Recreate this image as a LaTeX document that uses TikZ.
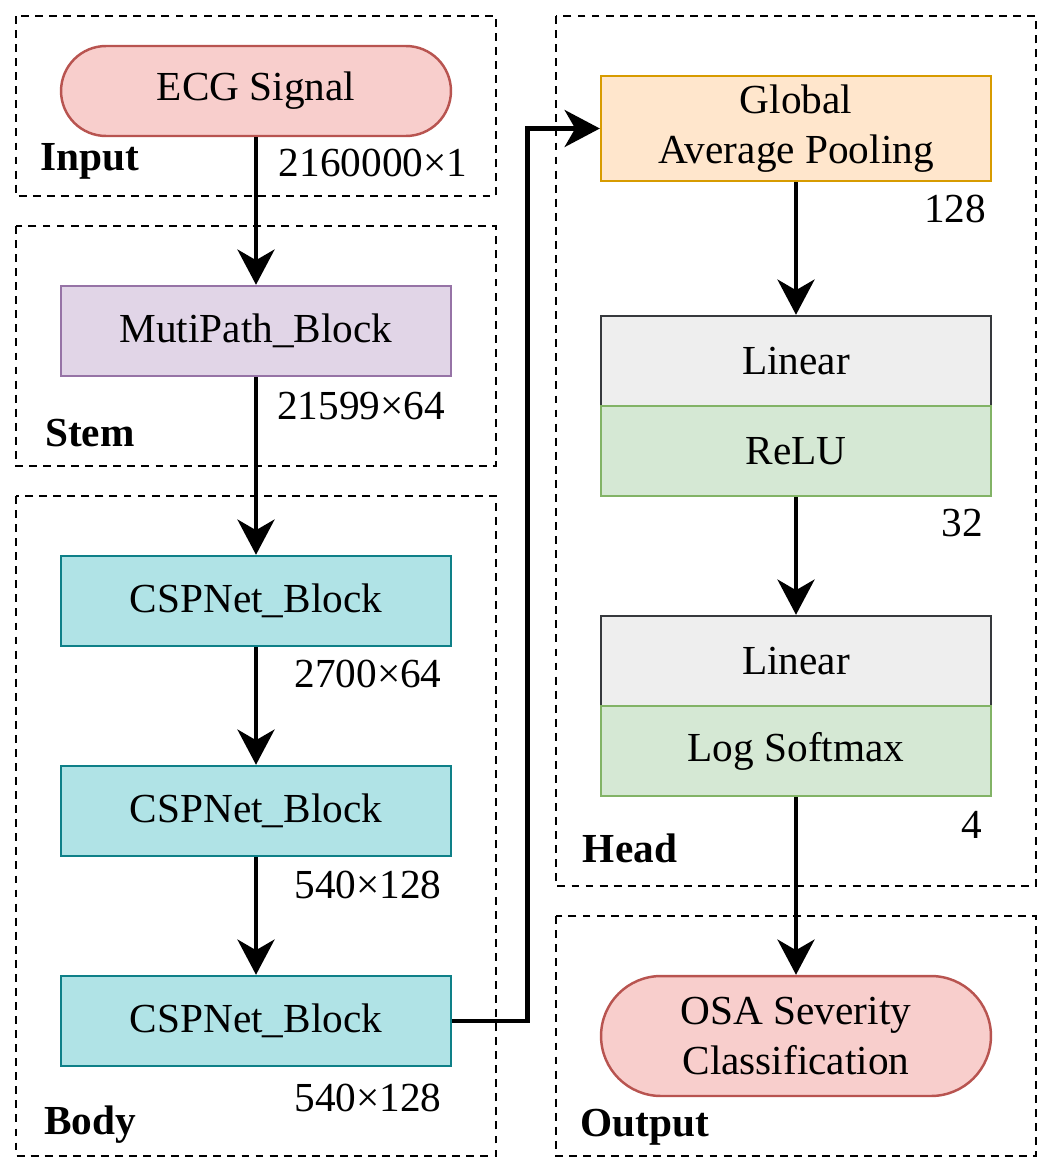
\documentclass[tikz,border=0pt]{standalone}
\usepackage{fontspec}
\setmainfont{Liberation Serif}
\usetikzlibrary{arrows.meta}

\definecolor{pillfill}{HTML}{F8CECC}
\definecolor{pillline}{HTML}{B85450}
\definecolor{stemfill}{HTML}{E1D5E7}
\definecolor{stemline}{HTML}{9673A6}
\definecolor{cspfill}{HTML}{B0E3E6}
\definecolor{cspline}{HTML}{0E8088}
\definecolor{poolfill}{HTML}{FFE6CC}
\definecolor{poolline}{HTML}{D79B00}
\definecolor{linfill}{HTML}{EEEEEE}
\definecolor{linline}{HTML}{36393D}
\definecolor{actfill}{HTML}{D5E8D4}
\definecolor{actline}{HTML}{82B366}

\tikzset{
	every node/.style={font=\fontsize{23.5}{28.5}\selectfont},
	block/.style={draw, line width=1.4pt, minimum width=7.8cm, minimum height=1.8cm, inner sep=0pt, align=center},
	pill/.style={block, rounded corners=0.9cm, fill=pillfill, draw=pillline},
	groupbox/.style={line width=1.4pt, dash pattern=on 4.5pt off 3.5pt},
	grouplabel/.style={font=\fontsize{23.5}{28.5}\selectfont\bfseries, inner sep=0pt},
	dimlabel/.style={inner sep=0pt},
	flow/.style={line width=2.8pt, -{Stealth[length=20pt, width=21pt, inset=6pt]}}
}

\begin{document}
\begin{tikzpicture}[x=0.02cm, y=-0.02cm]
		%%%%% START %%%%%
		\useasboundingbox (0, 0) rectangle (1053, 1173);
		
		% dashed groups
		\draw[groupbox] (16, 16) rectangle (496, 196);
		\draw[groupbox] (16, 226) rectangle (496, 466);
		\draw[groupbox] (16, 496) rectangle (496, 1156);
		\draw[groupbox] (556, 16) rectangle (1036, 886);
		\draw[groupbox] (556, 916) rectangle (1036, 1156);
		
		\node[grouplabel] (lblinput) at (90, 161) {Input};
		\node[grouplabel] (lblstem) at (90, 433) {Stem};
		\node[grouplabel] (lblbody) at (90, 1125) {Body};
		\node[grouplabel] (lblhead) at (630, 848) {Head};
		\node[grouplabel] (lbloutput) at (645, 1127) {Output};
		
		% left column
		\node[pill] (ecg) at (256, 91) {ECG Signal};
		\node[block, fill=stemfill, draw=stemline] (stem) at (256, 331) {MutiPath\_Block};
		\node[block, fill=cspfill, draw=cspline] (cspa) at (256, 601) {CSPNet\_Block};
		\node[block, fill=cspfill, draw=cspline] (cspb) at (256, 811) {CSPNet\_Block};
		\node[block, fill=cspfill, draw=cspline] (cspc) at (256, 1021) {CSPNet\_Block};
		
		% right column
		\node[block, fill=poolfill, draw=poolline, minimum height=2.1cm] (gap) at (796, 128.5) {Global\\Average Pooling};
		\node[block, fill=linfill, draw=linline] (lina) at (796, 361) {Linear};
		\node[block, fill=actfill, draw=actline] (acta) at (796, 451) {ReLU};
		\node[block, fill=linfill, draw=linline] (linb) at (796, 661) {Linear};
		\node[block, fill=actfill, draw=actline] (actb) at (796, 751) {Log Softmax};
		\node[pill, minimum height=2.4cm, rounded corners=1.2cm] (osa) at (796, 1036) {OSA Severity\\Classification};
		
		% sizes
		\node[dimlabel] (dima) at (373, 163) {2160000×1};
		\node[dimlabel] (dimb) at (361, 406) {21599×64};
		\node[dimlabel] (dimc) at (368, 674) {2700×64};
		\node[dimlabel] (dimd) at (368, 885) {540×128};
		\node[dimlabel] (dime) at (368, 1098) {540×128};
		\node[dimlabel] (dimf) at (955, 209) {128};
		\node[dimlabel] (dimg) at (962, 523) {32};
		\node[dimlabel] (dimh) at (972, 825) {4};
		
		% connectors
		\draw[flow] (ecg) -- (stem);
		\draw[flow] (stem) -- (cspa);
		\draw[flow] (cspa) -- (cspb);
		\draw[flow] (cspb) -- (cspc);
		\draw[flow] (cspc.east) -- ++(75, 0) |- (gap.west);
		\draw[flow] (gap) -- (lina);
		\draw[flow] (acta) -- (linb);
		\draw[flow] (actb) -- (osa);
		%%%%% END %%%%%
\end{tikzpicture}
\end{document}
